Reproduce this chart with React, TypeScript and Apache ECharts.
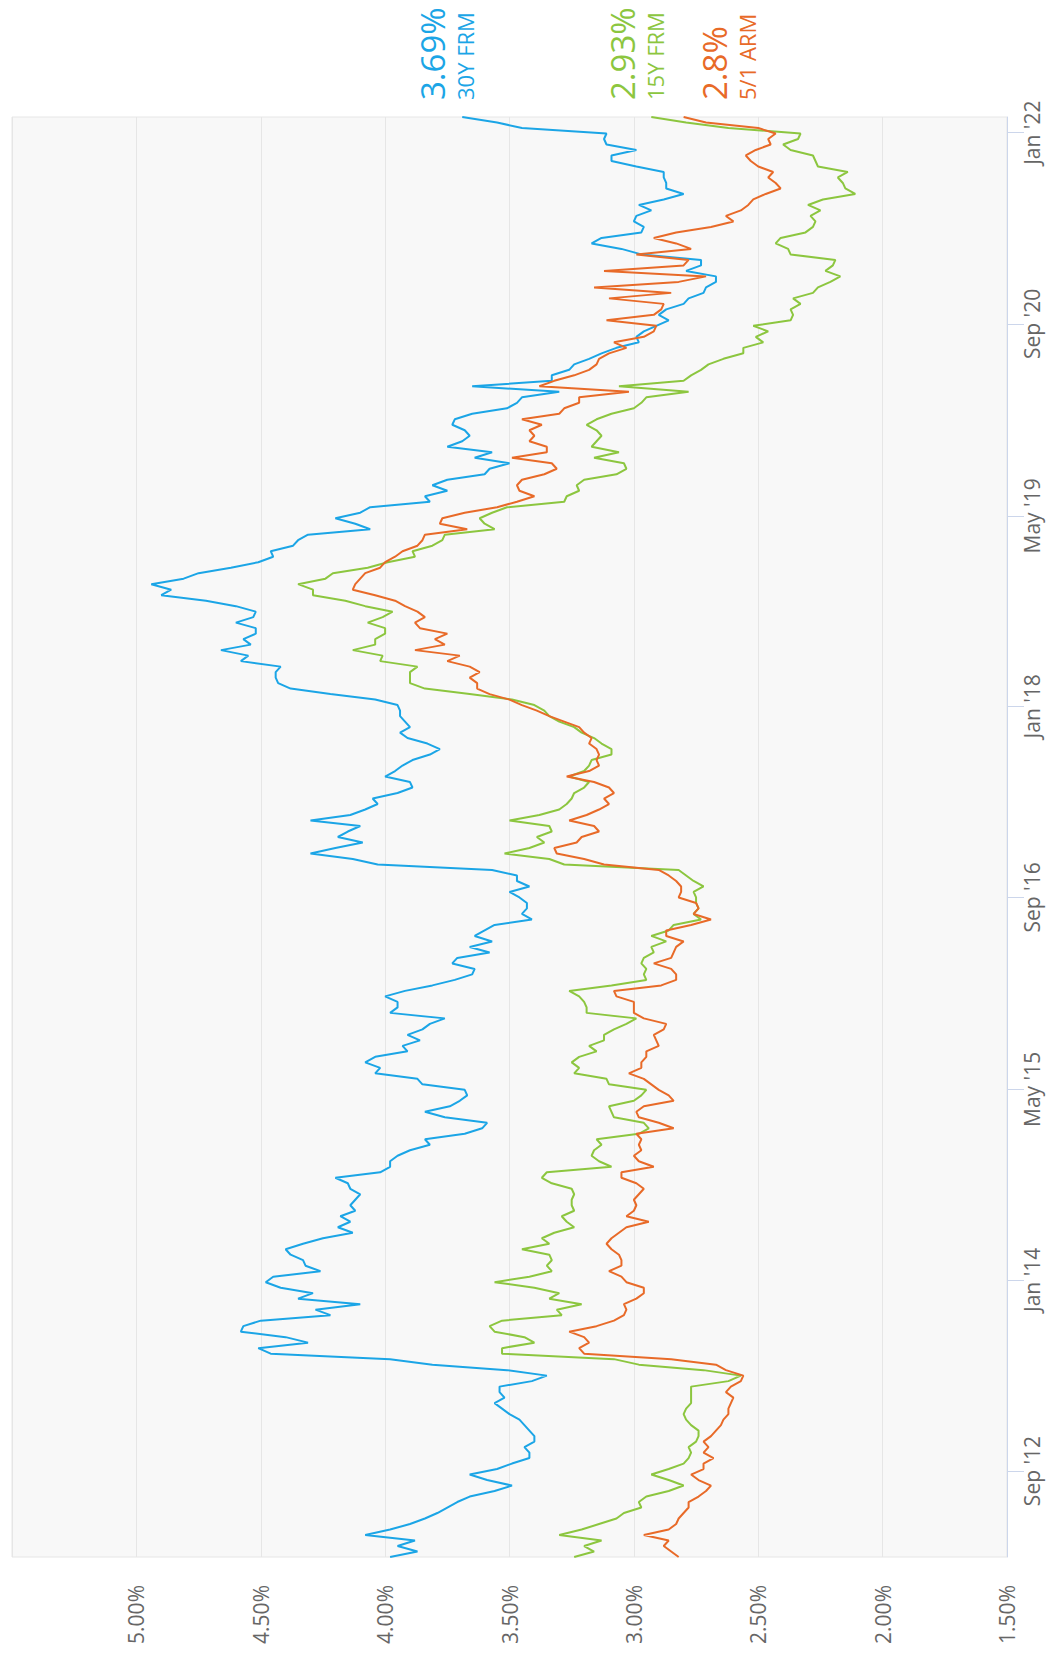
import React, { useEffect, useRef } from "react";
import * as echarts from "echarts";

// Weekly survey, sampled every other week (Thursdays), Jan 26 2012 -> Feb 10 2022
const startDate = "2012-01-26";
const stepDays = 14;

const rate30 = [
  3.98, 3.87, 3.95, 3.88, 4.08, 3.98, 3.90, 3.84, 3.79, 3.75, 3.71, 3.66, 3.56, 3.49, 3.59, 3.66, 3.55, 3.49, 3.42, 3.42, 3.44, 3.40, 3.40, 3.42, 3.44, 3.46,
  3.50, 3.53, 3.56, 3.52, 3.54, 3.54, 3.41, 3.35, 3.51, 3.81, 3.98, 4.46, 4.51, 4.31, 4.40, 4.58, 4.57, 4.50, 4.22, 4.28, 4.10, 4.35, 4.29, 4.42, 4.48, 4.45,
  4.26, 4.32, 4.33, 4.38, 4.40, 4.33, 4.25, 4.13, 4.19, 4.14, 4.18, 4.12, 4.14, 4.12, 4.10, 4.14, 4.15, 4.20, 4.02, 3.98, 3.98, 3.95, 3.90, 3.82, 3.84, 3.68, 3.61,
  3.59, 3.76, 3.84, 3.74, 3.70, 3.67, 3.68, 3.85, 3.87, 4.04, 4.02, 4.08, 4.04, 3.91, 3.93, 3.86, 3.91, 3.85, 3.82, 3.76, 3.98, 3.95, 3.95, 4.00, 3.92, 3.81,
  3.72, 3.65, 3.64, 3.73, 3.71, 3.58, 3.66, 3.57, 3.64, 3.60, 3.56, 3.41, 3.45, 3.43, 3.43, 3.46, 3.50, 3.42, 3.47, 3.47, 3.57, 4.03, 4.13, 4.30, 4.20, 4.09, 4.19,
  4.15, 4.10, 4.30, 4.14, 4.08, 4.03, 4.05, 3.95, 3.89, 3.90, 4.00, 3.96, 3.93, 3.89, 3.82, 3.78, 3.83, 3.91, 3.94, 3.90, 3.92, 3.94, 3.94, 3.95, 4.04, 4.22,
  4.38, 4.43, 4.44, 4.44, 4.42, 4.58, 4.55, 4.66, 4.54, 4.57, 4.52, 4.52, 4.60, 4.53, 4.52, 4.60, 4.72, 4.90, 4.86, 4.94, 4.81, 4.75, 4.62, 4.51, 4.45, 4.46, 4.37,
  4.35, 4.31, 4.06, 4.12, 4.20, 4.10, 4.06, 3.82, 3.84, 3.75, 3.81, 3.75, 3.60, 3.58, 3.50, 3.64, 3.57, 3.75, 3.69, 3.66, 3.68, 3.73, 3.72, 3.65, 3.51, 3.47,
  3.45, 3.30, 3.65, 3.33, 3.33, 3.26, 3.24, 3.18, 3.13, 3.07, 2.98, 2.99, 2.96, 2.91, 2.86, 2.90, 2.87, 2.80, 2.78, 2.72, 2.71, 2.67, 2.67, 2.79, 2.73, 2.73, 2.97,
  3.05, 3.17, 3.13, 2.97, 2.96, 3.00, 2.99, 2.93, 2.98, 2.88, 2.80, 2.87, 2.87, 2.88, 2.88, 2.99, 3.09, 3.09, 2.99, 3.11, 3.12, 3.11, 3.45, 3.55, 3.69,
];

const rate15 = [
  3.24, 3.16, 3.20, 3.13, 3.30, 3.21, 3.14, 3.07, 3.04, 2.97, 2.98, 2.95, 2.86, 2.80, 2.86, 2.93, 2.86, 2.80, 2.78, 2.77, 2.78, 2.75, 2.74, 2.74, 2.77, 2.79,
  2.80, 2.79, 2.77, 2.77, 2.77, 2.77, 2.62, 2.57, 2.72, 2.98, 3.08, 3.53, 3.53, 3.40, 3.44, 3.56, 3.58, 3.53, 3.29, 3.31, 3.21, 3.34, 3.30, 3.40, 3.56, 3.42,
  3.33, 3.35, 3.33, 3.34, 3.45, 3.34, 3.37, 3.32, 3.24, 3.27, 3.29, 3.24, 3.25, 3.25, 3.24, 3.25, 3.33, 3.37, 3.35, 3.09, 3.14, 3.17, 3.16, 3.13, 3.15, 2.98, 2.94,
  2.96, 3.08, 3.09, 3.10, 3.00, 2.97, 2.95, 3.10, 3.11, 3.24, 3.22, 3.25, 3.22, 3.15, 3.18, 3.12, 3.12, 3.08, 3.03, 2.99, 3.19, 3.19, 3.20, 3.22, 3.26, 3.09,
  2.95, 2.96, 2.95, 2.97, 2.96, 2.92, 2.93, 2.87, 2.93, 2.86, 2.84, 2.73, 2.76, 2.74, 2.75, 2.75, 2.76, 2.72, 2.76, 2.79, 2.82, 3.28, 3.34, 3.52, 3.42, 3.36, 3.39,
  3.33, 3.34, 3.50, 3.38, 3.30, 3.27, 3.25, 3.24, 3.20, 3.18, 3.26, 3.20, 3.18, 3.17, 3.09, 3.09, 3.13, 3.16, 3.21, 3.24, 3.30, 3.34, 3.36, 3.40, 3.49, 3.66,
  3.84, 3.90, 3.90, 3.90, 3.87, 4.02, 4.01, 4.13, 4.04, 4.04, 4.00, 4.00, 4.07, 4.01, 3.97, 4.08, 4.16, 4.29, 4.29, 4.35, 4.24, 4.21, 4.07, 3.99, 3.88, 3.89, 3.81,
  3.77, 3.76, 3.56, 3.60, 3.62, 3.57, 3.51, 3.28, 3.27, 3.22, 3.23, 3.20, 3.07, 3.03, 3.04, 3.16, 3.06, 3.17, 3.15, 3.13, 3.15, 3.19, 3.15, 3.09, 3.00, 2.97,
  2.95, 2.78, 3.06, 2.80, 2.77, 2.73, 2.70, 2.64, 2.56, 2.56, 2.48, 2.51, 2.46, 2.52, 2.37, 2.36, 2.37, 2.33, 2.36, 2.28, 2.26, 2.21, 2.17, 2.23, 2.20, 2.19, 2.37,
  2.38, 2.43, 2.41, 2.31, 2.28, 2.27, 2.29, 2.25, 2.30, 2.24, 2.11, 2.15, 2.16, 2.18, 2.14, 2.26, 2.27, 2.28, 2.37, 2.40, 2.34, 2.33, 2.62, 2.79, 2.93,
];

const arm51 = [
  2.82, 2.85, 2.88, 2.86, 2.96, 2.86, 2.83, 2.82, 2.80, 2.78, 2.78, 2.74, 2.71, 2.69, 2.74, 2.77, 2.72, 2.72, 2.68, 2.72, 2.70, 2.72, 2.69, 2.67, 2.65, 2.64,
  2.62, 2.62, 2.61, 2.60, 2.63, 2.61, 2.57, 2.56, 2.63, 2.67, 2.85, 3.20, 3.22, 3.18, 3.20, 3.26, 3.15, 3.08, 3.04, 3.03, 3.04, 2.99, 2.96, 2.96, 3.03, 3.05,
  3.10, 3.05, 3.05, 3.06, 3.09, 3.11, 3.09, 3.06, 3.03, 2.94, 3.03, 3.00, 2.99, 3.00, 2.98, 2.96, 2.99, 3.05, 3.05, 2.92, 2.98, 3.00, 2.97, 2.98, 2.97, 2.99, 2.84,
  2.90, 2.98, 2.99, 2.96, 2.84, 2.86, 2.90, 2.93, 2.96, 3.02, 2.97, 2.97, 2.95, 2.95, 2.90, 2.91, 2.92, 2.88, 2.87, 2.96, 3.00, 3.00, 3.00, 3.07, 3.08, 2.89,
  2.83, 2.83, 2.85, 2.92, 2.85, 2.84, 2.83, 2.80, 2.87, 2.87, 2.77, 2.69, 2.76, 2.74, 2.75, 2.82, 2.81, 2.81, 2.83, 2.86, 2.90, 3.12, 3.20, 3.31, 3.32, 3.23, 3.21,
  3.14, 3.16, 3.26, 3.19, 3.14, 3.10, 3.12, 3.08, 3.10, 3.16, 3.27, 3.18, 3.14, 3.15, 3.14, 3.15, 3.18, 3.17, 3.20, 3.22, 3.28, 3.34, 3.39, 3.45, 3.50, 3.58,
  3.63, 3.63, 3.66, 3.62, 3.66, 3.75, 3.70, 3.88, 3.76, 3.80, 3.75, 3.86, 3.88, 3.84, 3.87, 3.92, 3.96, 4.04, 4.13, 4.12, 4.10, 4.08, 4.02, 4.00, 3.96, 3.93, 3.87,
  3.85, 3.84, 3.67, 3.78, 3.77, 3.68, 3.55, 3.47, 3.40, 3.46, 3.47, 3.45, 3.36, 3.31, 3.33, 3.49, 3.35, 3.35, 3.42, 3.40, 3.42, 3.37, 3.45, 3.30, 3.28, 3.22,
  3.22, 3.02, 3.38, 3.32, 3.24, 3.18, 3.15, 3.14, 3.10, 3.03, 3.08, 2.96, 2.92, 2.91, 3.11, 2.92, 2.89, 2.88, 3.10, 2.85, 3.16, 2.82, 2.71, 3.12, 2.80, 2.78, 2.99,
  2.77, 2.83, 2.92, 2.83, 2.69, 2.60, 2.63, 2.57, 2.54, 2.52, 2.47, 2.41, 2.43, 2.46, 2.44, 2.50, 2.53, 2.55, 2.51, 2.45, 2.46, 2.43, 2.50, 2.71, 2.80,
];

const seriesNames = ["30Y FRM", "15Y FRM", "5/1 ARM"];
const seriesColors = ["#1ba5e6", "#8cc63f", "#e86a28"];

const dateTicks = ["2012-09-01", "2014-01-01", "2015-05-01", "2016-09-01", "2018-01-01", "2019-05-01", "2020-09-01", "2022-01-01"];
const dateTickLabels = ["Sep '12", "Jan '14", "May '15", "Sep '16", "Jan '18", "May '19", "Sep '20", "Jan '22"];

const FONT = '"Open Sans", "DejaVu Sans", sans-serif';

export default function App() {
  const ref = useRef<HTMLDivElement>(null);
  useEffect(() => {
    document.body.style.margin = "0";
    if (!ref.current) return;
    const chart = echarts.init(ref.current, null, { renderer: "svg" });
    const day = 86400000;
    const start = new Date(startDate + "T00:00:00Z").getTime();
    const times = rate30.map((_, i) => start + i * stepDays * day);
    const tickTimes = dateTicks.map((d) => new Date(d + "T00:00:00Z").getTime());
    const all = [rate30, rate15, arm51];
    const mk = (vals: number[]) => vals.map((v, i) => [v, times[i]]);
    const last = (a: number[]) => a[a.length - 1];

    const labelDefs = [
      { big: `${last(rate30)}%`, small: seriesNames[0], xBig: 432, xSmall: 465, color: seriesColors[0] },
      { big: `${last(rate15)}%`, small: seriesNames[1], xBig: 622, xSmall: 655, color: seriesColors[1] },
      { big: `${last(arm51)}%`, small: seriesNames[2], xBig: 714, xSmall: 747, color: seriesColors[2] },
    ];
    const graphic: any[] = [];
    labelDefs.forEach((l) => {
      graphic.push({
        type: "text",
        x: l.xBig,
        y: 100,
        rotation: Math.PI / 2,
        style: { text: l.big, fill: l.color, font: `33px ${FONT}`, align: "left", verticalAlign: "middle" },
      });
      graphic.push({
        type: "text",
        x: l.xSmall,
        y: 100,
        rotation: Math.PI / 2,
        style: { text: l.small, fill: l.color, font: `22px ${FONT}`, align: "left", verticalAlign: "middle" },
      });
    });

    chart.setOption({
      animation: false,
      backgroundColor: "#ffffff",
      textStyle: { fontFamily: FONT },
      grid: {
        left: 12,
        right: 46,
        top: 117,
        bottom: 104,
        show: true,
        backgroundColor: "#f8f8f8",
        borderColor: "#e6e6e6",
        borderWidth: 1,
      },
      xAxis: {
        type: "value",
        inverse: true,
        min: 1.5,
        max: 5.5,
        interval: 0.5,
        position: "bottom",
        axisLine: { show: false },
        axisTick: { show: false },
        splitLine: { show: true, lineStyle: { color: "#e6e6e6", width: 1 } },
        axisLabel: {
          rotate: 90,
          margin: 28,
          color: "#666666",
          fontSize: 21,
          fontFamily: FONT,
          formatter: (v: number) => (v > 5.01 ? "" : v.toFixed(2) + "%"),
        },
      },
      yAxis: {
        type: "value",
        position: "right",
        min: times[0],
        max: times[times.length - 1],
        axisLine: { show: true, lineStyle: { color: "#ccd6eb", width: 1 } },
        axisTick: { show: true, customValues: tickTimes, length: 17, lineStyle: { color: "#ccd6eb" } },
        splitLine: { show: false },
        axisLabel: {
          customValues: tickTimes,
          rotate: 90,
          margin: 14,
          color: "#666666",
          fontSize: 21,
          fontFamily: FONT,
          formatter: (v: number) => {
            const i = tickTimes.findIndex((t) => Math.abs(t - v) < day);
            return i >= 0 ? dateTickLabels[i] : "";
          },
        },
      },
      series: all.map((vals, i) => ({
        name: seriesNames[i],
        type: "line",
        data: mk(vals),
        showSymbol: false,
        symbol: "none",
        lineStyle: { color: seriesColors[i], width: 2 },
        itemStyle: { color: seriesColors[i] },
        z: 2 + i,
      })),
      graphic,
    });
    return () => chart.dispose();
  }, []);
  return <div ref={ref} style={{ width: 1053, height: 1661 }} />;
}
